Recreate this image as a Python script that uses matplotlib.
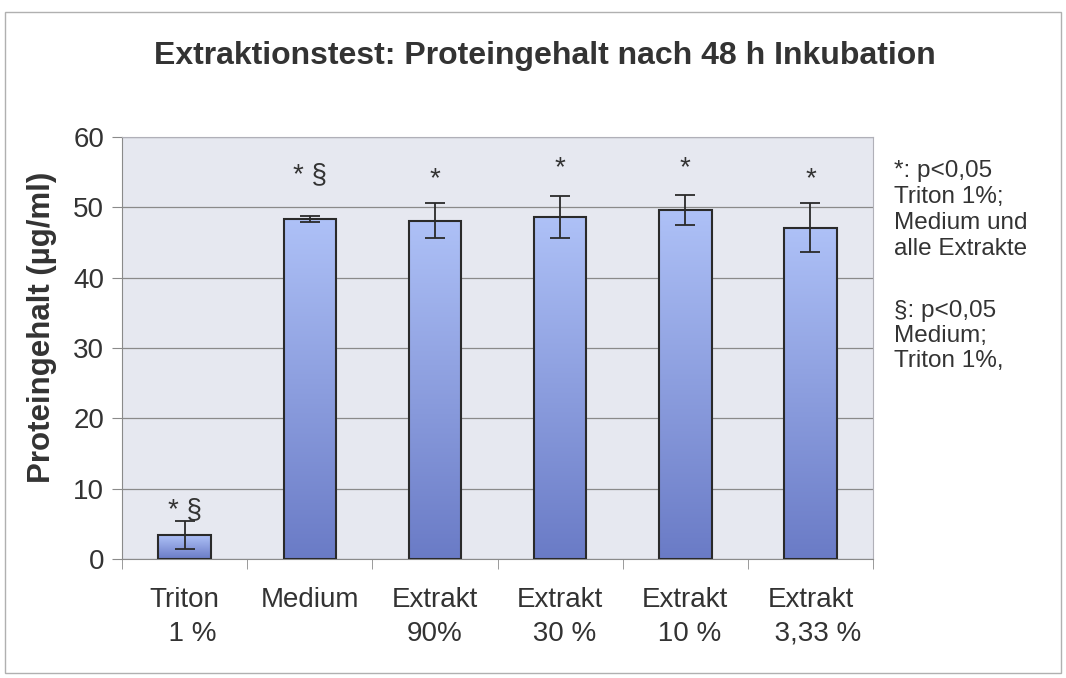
import matplotlib
matplotlib.use("Agg")
import matplotlib.pyplot as plt
import numpy as np
from matplotlib.colors import LinearSegmentedColormap

# Daten
categories = ["Triton\n  1 %", "Medium", "Extrakt\n90%", "Extrakt\n 30 %", "Extrakt\n 10 %", "Extrakt\n  3,33 %"]
values = [3.4, 48.3, 48.1, 48.6, 49.6, 47.1]
errors = [2.0, 0.4, 2.5, 3.0, 2.1, 3.5]
marks = ["* §", "* §", "*", "*", "*", "*"]
mark_y = [7.0, 54.5, 54.0, 55.5, 55.5, 54.0]

plt.rcParams['font.family'] = ['Liberation Sans', 'DejaVu Sans']
txt = '#333333'

fig = plt.figure(figsize=(10.66, 6.78), dpi=100)
ax = fig.add_axes([0.1145, 0.1755, 0.7045, 0.6225])
ax.set_facecolor('#e6e8f0')

x = np.arange(len(values))
bars = ax.bar(x, values, width=0.42, color='none', edgecolor='#2a2a2a', linewidth=1.5, zorder=3)

# Farbverlauf in den Balken (oben hell, unten dunkler)
cmap = LinearSegmentedColormap.from_list('blau', ['#6a7bc6', '#aec1f7'])
grad = np.linspace(0, 1, 256).reshape(-1, 1)
for b in bars:
    x0, y0 = b.get_x(), b.get_y()
    w, h = b.get_width(), b.get_height()
    im = ax.imshow(grad, extent=[x0, x0 + w, y0, y0 + h], origin='lower',
                   cmap=cmap, aspect='auto', zorder=2)
    im.set_clip_path(b)

ax.errorbar(x, values, yerr=errors, fmt='none', ecolor='#2a2a2a', elinewidth=1.3,
            capsize=7, capthick=1.3, zorder=4)

for xi, m, yy in zip(x, marks, mark_y):
    ax.text(xi, yy, m, ha='center', va='center', fontsize=20, color=txt, zorder=5)

ax.set_xlim(-0.5, len(values) - 0.5)
ax.set_ylim(0, 60)
ax.set_yticks(range(0, 61, 10))
ax.yaxis.grid(True, color='#8a8a8a', linewidth=0.9, zorder=0)
ax.set_axisbelow(True)

ax.set_xticks(x)
ax.set_xticklabels(categories, fontsize=20, color=txt, linespacing=1.4)
ax.set_xticks(np.arange(-0.5, len(values), 1.0), minor=True)
ax.tick_params(axis='x', which='major', length=0, pad=20)
ax.tick_params(axis='x', which='minor', length=7, color='#8a8a8a', direction='out')
ax.tick_params(axis='y', labelsize=20, labelcolor=txt, length=7, color='#8a8a8a', pad=6)

for side in ['top', 'right']:
    ax.spines[side].set_color('#b0b0b8')
for side in ['left', 'bottom']:
    ax.spines[side].set_color('#8a8a8a')

ax.set_ylabel('Proteingehalt (µg/ml)', fontsize=22.5, fontweight='bold', color=txt)
ax.yaxis.set_label_coords(-0.087, 0.55)

fig.text(0.511, 0.918, 'Extraktionstest: Proteingehalt nach 48 h Inkubation',
         ha='center', va='center', fontsize=23, fontweight='bold', color=txt)

fig.text(0.839, 0.764, '*: p<0,05\nTriton 1%;\nMedium und\nalle Extrakte',
         ha='left', va='top', fontsize=17.5, color=txt, linespacing=1.24)
fig.text(0.839, 0.558, '§: p<0,05\nMedium;\nTriton 1%,',
         ha='left', va='top', fontsize=17.5, color=txt, linespacing=1.2)

# Rahmen um die Grafik
fig.patches.append(plt.Rectangle((0.005, 0.008), 0.99, 0.975, transform=fig.transFigure,
                                 fill=False, edgecolor='#b0b0b0', linewidth=1))

fig.savefig('out.png', dpi=100)
